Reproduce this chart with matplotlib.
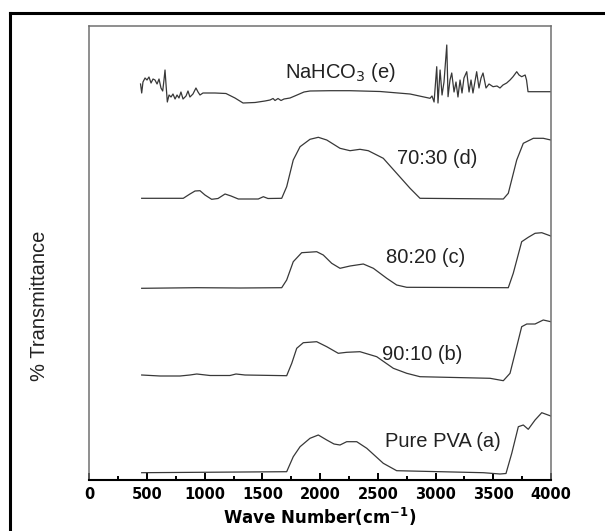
import matplotlib
matplotlib.use("Agg")
import matplotlib.pyplot as plt
from matplotlib.lines import Line2D
from matplotlib.ticker import MultipleLocator
from matplotlib import font_manager

# ---- data (wavenumber in cm^-1, transmittance in arbitrary stacked units) ----
wn_e = [444, 454, 465, 483, 500, 517, 535, 552, 569, 587, 604, 621, 636, 647, 656, 665, 676,
        691, 708, 725, 743, 760, 777, 794, 812, 838, 855, 872, 898, 924, 942, 959, 985, 1020,
        1089, 1184, 1262, 1332, 1436, 1522, 1566, 1592, 1609, 1635, 1661, 1687, 1739, 1800,
        1860, 1912, 2085, 2259, 2519, 2779, 2952, 2969, 2987, 3010, 3021, 3039, 3056, 3073,
        3097, 3108, 3125, 3140, 3160, 3177, 3194, 3212, 3229, 3246, 3270, 3290, 3307, 3324,
        3356, 3376, 3394, 3411, 3437, 3463, 3498, 3532, 3558, 3584, 3616, 3645, 3671, 3703,
        3723, 3746, 3776, 3788, 3801, 3905, 4000]
t_e = [396, 387, 398, 402, 400, 403, 397, 401, 400, 396, 401, 392, 389, 400, 410, 395, 378,
       385, 383, 386, 381, 385, 382, 388, 381, 384, 389, 383, 386, 392, 388, 385, 387, 387,
       387, 386.5, 382, 377, 377.5, 379, 380, 381.5, 379.5, 381.5, 379.5, 381, 382, 385,
       388, 389, 389.3, 389.3, 388.5, 386, 381.7, 384, 378, 413.3, 377, 410, 385, 398,
       435, 383.3, 400, 407, 388, 398, 383, 400, 387, 402, 408.3, 388, 400, 387,
       408.3, 392, 402, 407, 392, 396, 393.3, 394, 392, 395, 397, 400, 403.3, 408.3,
       405, 403.3, 405, 400, 388.3, 388.3, 388.3]

wn_d = [454, 814, 872, 916, 959, 1002, 1060, 1115, 1176, 1228, 1291, 1464, 1508, 1548, 1667,
        1710, 1767, 1826, 1912, 1984, 2057, 2172, 2259, 2345, 2417, 2547, 2663, 2779, 2865,
        3587, 3630, 3703, 3760, 3847, 3933, 3998]
t_d = [281.7, 281.7, 286, 289, 289.3, 285, 280.7, 281.5, 286, 284, 281, 281, 283.3, 281.5, 281.7,
       293.3, 320, 333.3, 340.7, 342.7, 340, 331.7, 329.3, 330.7, 329.3, 321.7, 306.7, 291.7, 281.7,
       281, 286.7, 320, 336.7, 341.7, 341.7, 340]

wn_c = [454, 931, 1306, 1667, 1710, 1767, 1840, 1970, 2027, 2100, 2172, 2259, 2374, 2461,
        2577, 2663, 2750, 3630, 3673, 3746, 3803, 3862, 3920, 3998]
t_c = [191.7, 192.3, 192, 192.3, 200, 218.3, 227.3, 228.3, 225, 216.7, 211.7, 214, 216, 211.7,
       201.7, 195, 192.7, 192.3, 206.7, 238.3, 242.7, 246.7, 247.3, 244]

wn_b = [454, 613, 786, 872, 931, 1046, 1219, 1271, 1349, 1710, 1754, 1797, 1854, 1970, 2057,
        2157, 2230, 2345, 2490, 2634, 2750, 2865, 3472, 3587, 3645, 3703, 3746, 3790, 3862,
        3933, 3998]
t_b = [105, 104, 104, 105, 106, 104.5, 104.5, 106, 105, 104.3, 116.7, 131.7, 137.3, 138.3, 133.3,
       126.7, 127.7, 128.3, 123.3, 111.7, 106.7, 103.3, 101.7, 99.3, 106.7, 133.3, 153.3, 156, 156,
       160, 158.3]

wn_a = [454, 959, 1710, 1767, 1826, 1912, 1984, 2057, 2120, 2172, 2230, 2317, 2404, 2547,
        2663, 3414, 3558, 3610, 3660, 3717, 3760, 3803, 3862, 3920, 3998]
t_a = [7.3, 7.7, 8.3, 23.3, 33.3, 41.7, 45, 40, 36, 35, 38.3, 38.3, 31.7, 16.7,
       9.3, 7.3, 6, 6.5, 26.7, 53.3, 55, 50.7, 60, 67.3, 64]

labels = ["NaHCO$_3$ (e)", "70:30 (d)", "80:20 (c)", "90:10 (b)", "Pure PVA (a)"]
label_x = [2174, 3017, 2915, 2887, 3067]
label_y = [407, 321, 222.7, 125, 38.3]

x_ticks = [0, 500, 1000, 1500, 2000, 2500, 3000, 3500, 4000]

# ---- figure ----
W, H = 605, 531
fig = plt.figure(figsize=(W / 100, H / 100), dpi=100)
fig.patch.set_facecolor("white")
ax = fig.add_axes([89.3 / W, (H - 480) / H, (551 - 89.3) / W, (480 - 26) / H])

line_color = "#383838"
for xs, ys in [(wn_e, t_e), (wn_d, t_d), (wn_c, t_c), (wn_b, t_b), (wn_a, t_a)]:
    ax.plot(xs, ys, color=line_color, lw=0.9)

for txt, lx, ly in zip(labels, label_x, label_y):
    ax.text(lx, ly, txt, ha="center", va="center", fontsize=14.5,
            family=["Liberation Sans", "DejaVu Sans"], color="#222222")

ax.set_xlim(0, 4000)
ax.set_ylim(0, 454)
ax.set_xticks(x_ticks)
ax.set_xticklabels([str(v) for v in x_ticks], fontsize=10.5, fontweight="bold")
ax.xaxis.set_minor_locator(MultipleLocator(250))
ax.tick_params(axis="x", which="major", direction="in", length=5, width=1.4, pad=5, colors="black")
ax.tick_params(axis="x", which="minor", direction="in", length=3, width=1.4)
ax.set_yticks([])

for side in ["left", "top", "right"]:
    ax.spines[side].set_color("#707070")
    ax.spines[side].set_linewidth(1.1)
ax.spines["bottom"].set_color("black")
ax.spines["bottom"].set_linewidth(1.5)

ax.set_xlabel("Wave Number(cm$^{\\mathbf{-1}}$)", fontsize=12, fontweight="bold", labelpad=3)

available = {f.name for f in font_manager.fontManager.ttflist}
if "Liberation Sans Narrow" in available:
    yl_family, yl_size = ["Liberation Sans Narrow", "DejaVu Sans"], 17
else:
    yl_family, yl_size = ["Liberation Sans", "DejaVu Sans"], 14.5
fig.text(40 / W, 1 - 306 / H, "% Transmittance", rotation=90, ha="center", va="center",
         fontsize=yl_size, family=yl_family, color="#222222")

# outer black frame (left and top edges)
fig.add_artist(Line2D([10 / W, 10 / W], [-0.05, 1 - 13.3 / H], transform=fig.transFigure,
                      color="black", lw=2.2, solid_capstyle="projecting"))
fig.add_artist(Line2D([10 / W, 1.05], [1 - 13.3 / H, 1 - 13.3 / H], transform=fig.transFigure,
                      color="black", lw=2.2, solid_capstyle="projecting"))

fig.savefig("out.png", dpi=100, facecolor="white")
